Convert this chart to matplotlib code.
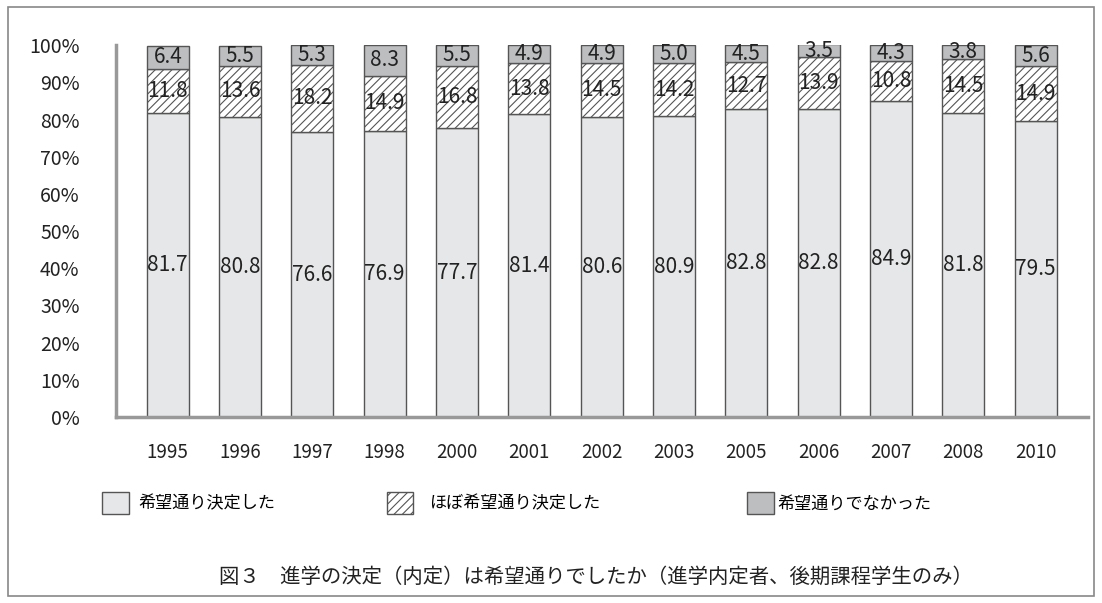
import matplotlib
matplotlib.use('Agg')
import matplotlib.pyplot as plt
from matplotlib.patches import Patch, Rectangle
import numpy as np

plt.rcParams['font.family'] = ['Noto Sans CJK JP', 'DejaVu Sans']
plt.rcParams['hatch.linewidth'] = 0.8

# データ
anos = ['1995', '1996', '1997', '1998', '2000', '2001', '2002',
        '2003', '2005', '2006', '2007', '2008', '2010']
kibo = [81.7, 80.8, 76.6, 76.9, 77.7, 81.4, 80.6, 80.9, 82.8, 82.8, 84.9, 81.8, 79.5]
hobo = [11.8, 13.6, 18.2, 14.9, 16.8, 13.8, 14.5, 14.2, 12.7, 13.9, 10.8, 14.5, 14.9]
nai = [6.4, 5.5, 5.3, 8.3, 5.5, 4.9, 4.9, 5.0, 4.5, 3.5, 4.3, 3.8, 5.6]
etiquetas = ['希望通り決定した', 'ほぼ希望通り決定した', '希望通りでなかった']

col_kibo = '#e6e7e8'
col_hobo = 'white'
col_nai = '#bcbec0'
borde = '#555555'

fig = plt.figure(figsize=(11.02, 6.03), dpi=100)
ax = fig.add_axes([0.105, 0.3085, 0.882, 0.6165])

x = np.arange(len(anos))
kibo = np.array(kibo)
hobo = np.array(hobo)
nai = np.array(nai)
ancho = 0.58

ax.bar(x, kibo, ancho, color=col_kibo, edgecolor=borde, linewidth=1)
ax.bar(x, hobo, ancho, bottom=kibo, color=col_hobo, edgecolor=borde,
       linewidth=1, hatch='////')
ax.bar(x, nai, ancho, bottom=kibo + hobo, color=col_nai, edgecolor=borde,
       linewidth=1)

# etiquetas de valores
for i in range(len(anos)):
    ax.text(x[i], kibo[i] / 2, f'{kibo[i]:.1f}', ha='center', va='center',
            fontsize=15, color='#222222')
    ax.text(x[i], kibo[i] + hobo[i] / 2, f'{hobo[i]:.1f}', ha='center',
            va='center', fontsize=15, color='#222222')
    ax.text(x[i], kibo[i] + hobo[i] + nai[i] / 2, f'{nai[i]:.1f}', ha='center',
            va='center', fontsize=15, color='#222222')

ax.set_xlim(-0.72, len(anos) - 0.28)
ax.set_ylim(0, 100)
ax.set_yticks(np.arange(0, 101, 10))
ax.set_yticklabels([f'{v}%' for v in range(0, 101, 10)])
ax.set_xticks(x)
ax.set_xticklabels(anos)
ax.tick_params(axis='y', length=0, pad=26, labelsize=14, colors='#222222')
ax.tick_params(axis='x', length=0, pad=18, labelsize=13.5, colors='#222222')
for s in ['top', 'right']:
    ax.spines[s].set_visible(False)
ax.spines['left'].set_color('#999999')
ax.spines['left'].set_linewidth(2.5)
ax.spines['bottom'].set_color('#999999')
ax.spines['bottom'].set_linewidth(2.5)

# leyenda
handles = [Patch(facecolor=col_kibo, edgecolor=borde),
           Patch(facecolor=col_hobo, edgecolor=borde, hatch='////'),
           Patch(facecolor=col_nai, edgecolor=borde)]
posiciones = [0.0926, 0.351, 0.678]
separacion = [0.55, 0.9, 0.2]
for h, lab, px, sep in zip(handles, etiquetas, posiciones, separacion):
    fig.legend([h], [lab], loc='center left', bbox_to_anchor=(px, 0.166),
               frameon=False, fontsize=12.3, handlelength=1.55, handleheight=1.55,
               handletextpad=sep, borderaxespad=0, borderpad=0)

fig.text(0.541, 0.043, '図３　進学の決定（内定）は希望通りでしたか（進学内定者、後期課程学生のみ）',
         ha='center', va='center', fontsize=14.7, color='#222222')

# marco exterior
fig.patches.append(Rectangle((0.007, 0.012), 0.986, 0.976, transform=fig.transFigure,
                             fill=False, edgecolor='#888888', linewidth=1.2))

fig.savefig('out.png', dpi=100)
